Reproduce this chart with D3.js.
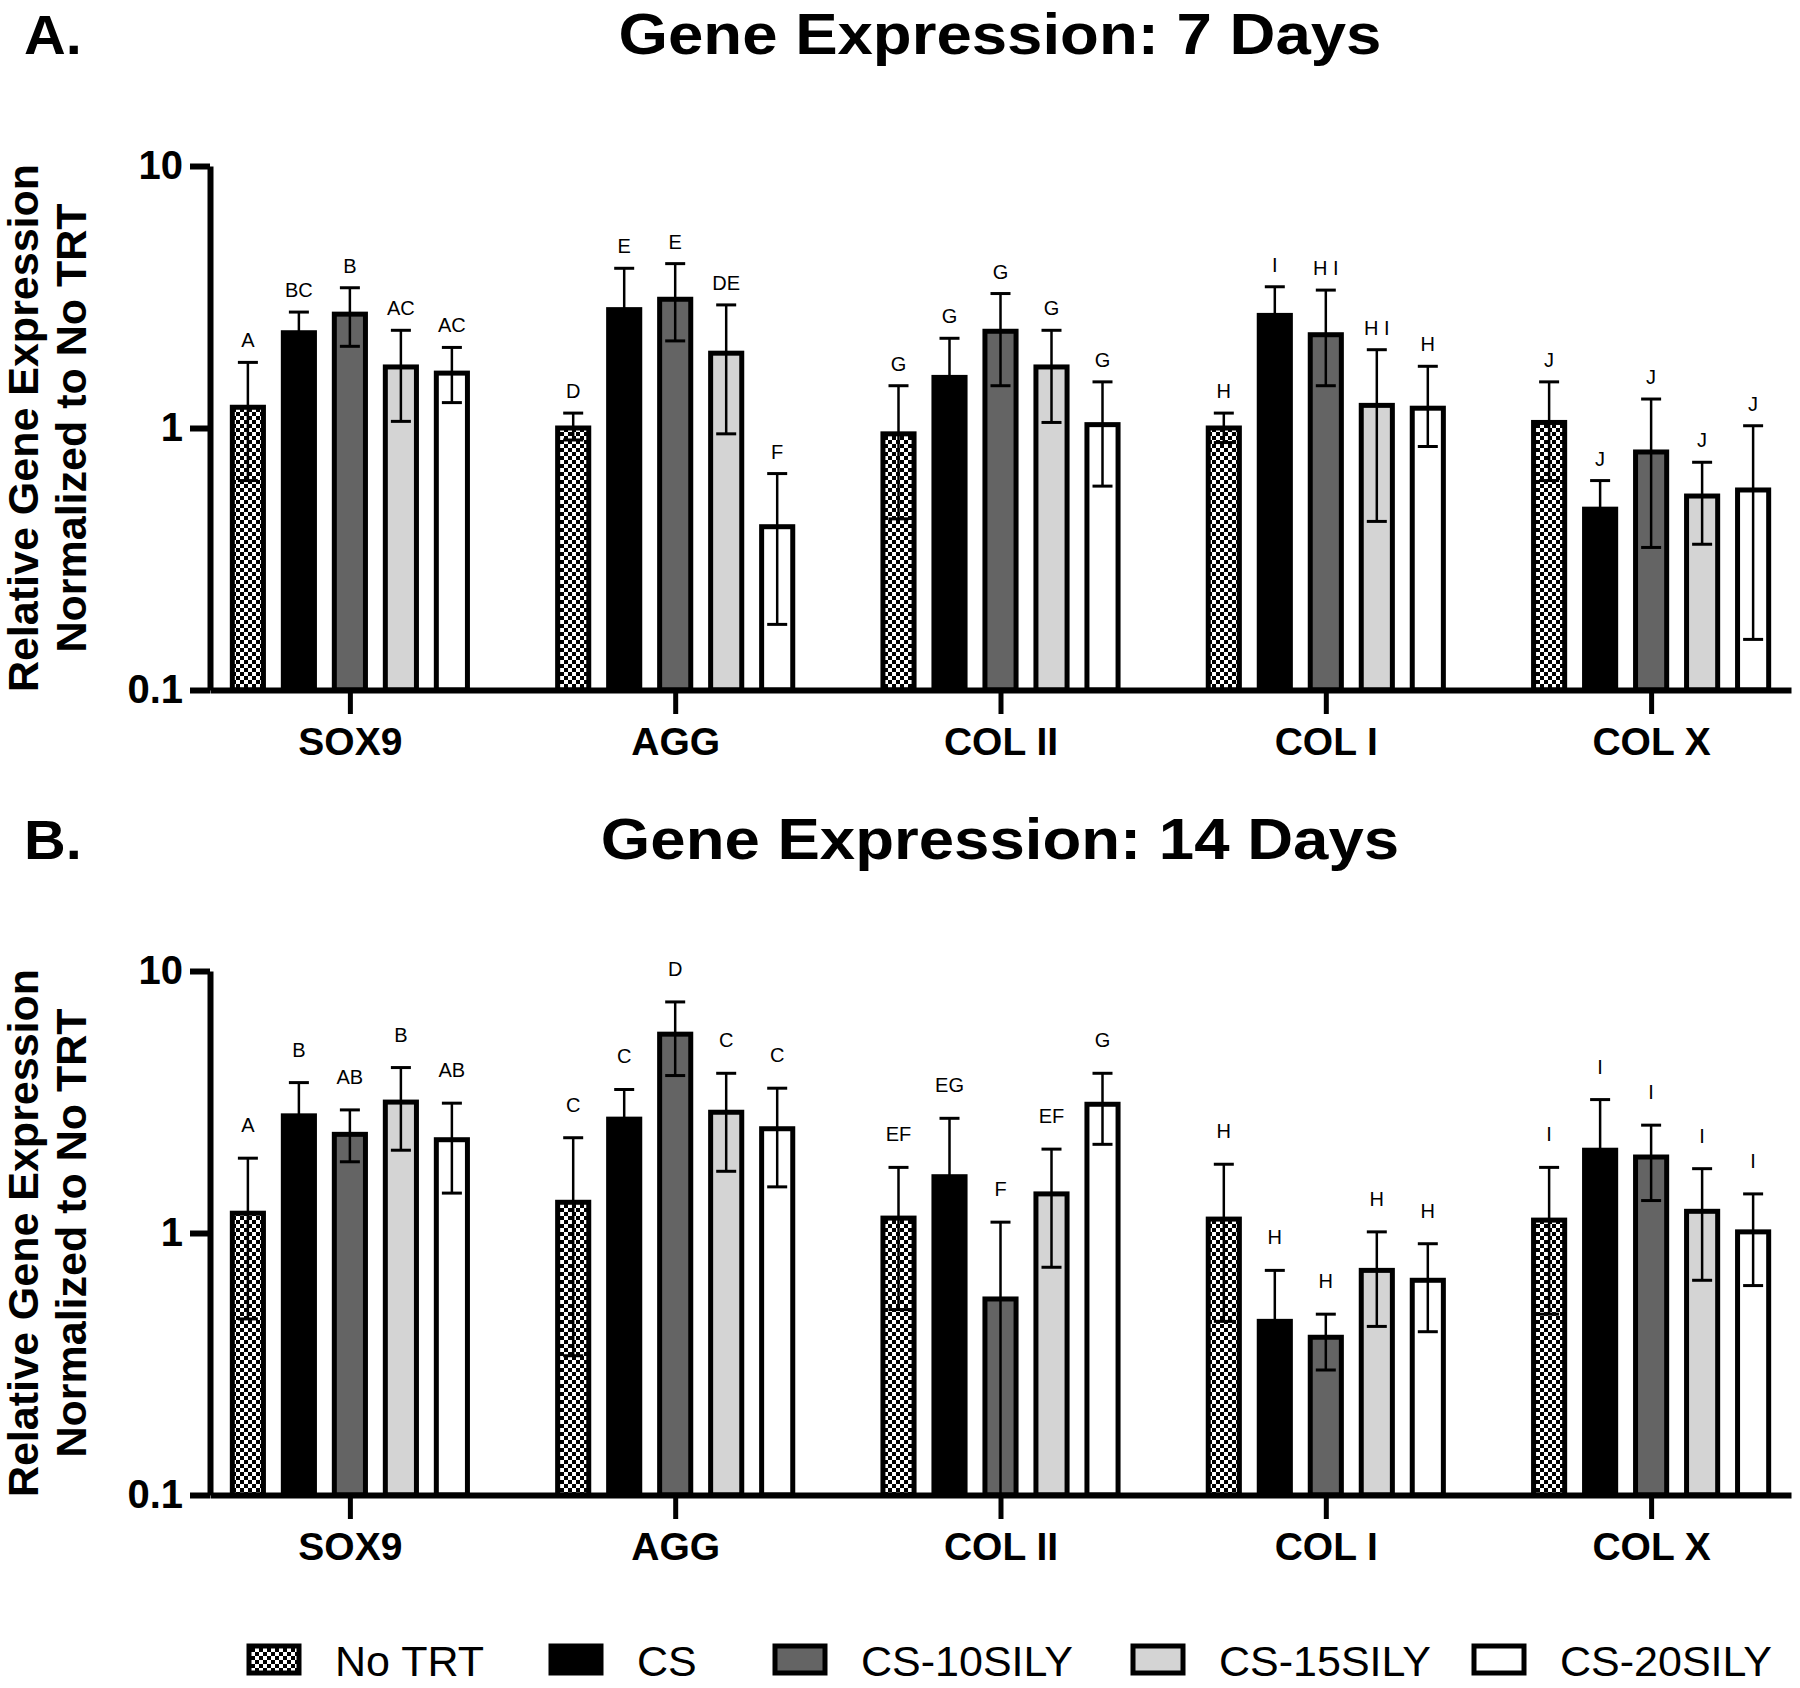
<!DOCTYPE html>
<html>
<head>
<meta charset="utf-8">
<script src="https://cdn.jsdelivr.net/npm/d3@7"></script>
<style>
  html, body { margin: 0; padding: 0; background: #fff; }
  svg { display: block; font-family: "Liberation Sans", Arial, sans-serif; }
</style>
</head>
<body>
<svg id="chart" width="1800" height="1688"></svg>
<script>
// ---------------- DATA ----------------
const categories = ["SOX9", "AGG", "COL II", "COL I", "COL X"];
const seriesNames = ["No TRT", "CS", "CS-10SILY", "CS-15SILY", "CS-20SILY"];
const yTickValues = [0.1, 1, 10];
const yTickLabels = ["0.1", "1", "10"];

// Day 7 — rows = series, columns = categories
const day7Mean = [
  [1.20, 1.00, 0.95, 1.00, 1.05],
  [2.31, 2.83, 1.56, 2.69, 0.49],
  [2.72, 3.10, 2.34, 2.27, 0.81],
  [1.71, 1.93, 1.71, 1.22, 0.55],
  [1.62, 0.42, 1.03, 1.19, 0.58]
];
const day7Upper = [
  [1.78, 1.14, 1.45, 1.14, 1.50],
  [2.77, 4.07, 2.20, 3.46, 0.63],
  [3.43, 4.24, 3.26, 3.36, 1.29],
  [2.36, 2.95, 2.36, 1.99, 0.74],
  [2.03, 0.67, 1.50, 1.72, 1.02]
];
const day7Lower = [
  [0.63, 0.90, 0.45, 0.88, 0.63],
  [1.93, 1.95, 1.10, 2.10, 0.38],
  [2.05, 2.15, 1.45, 1.45, 0.35],
  [1.06, 0.95, 1.05, 0.44, 0.36],
  [1.25, 0.178, 0.60, 0.85, 0.156]
];
const day7Letters = [
  ["A", "D", "G", "H", "J"],
  ["BC", "E", "G", "I", "J"],
  ["B", "E", "G", "H I", "J"],
  ["AC", "DE", "G", "H I", "J"],
  ["AC", "F", "G", "H", "J"]
];

// Day 14
const day14Mean = [
  [1.19, 1.31, 1.14, 1.13, 1.12],
  [2.80, 2.72, 1.64, 0.46, 2.07],
  [2.38, 5.74, 0.56, 0.40, 1.95],
  [3.16, 2.89, 1.41, 0.72, 1.21],
  [2.27, 2.50, 3.10, 0.66, 1.01]
];
const day14Upper = [
  [1.93, 2.31, 1.78, 1.83, 1.78],
  [3.75, 3.53, 2.74, 0.72, 3.23],
  [2.95, 7.62, 1.10, 0.49, 2.58],
  [4.28, 4.07, 2.09, 1.01, 1.76],
  [3.13, 3.57, 4.07, 0.91, 1.41]
];
const day14Lower = [
  [0.47, 0.34, 0.51, 0.46, 0.49],
  [2.10, 2.00, 1.10, 0.33, 1.50],
  [1.87, 3.99, 0.05, 0.30, 1.33],
  [2.07, 1.72, 0.74, 0.44, 0.66],
  [1.42, 1.50, 2.18, 0.42, 0.63]
];
const day14Letters = [
  ["A", "C", "EF", "H", "I"],
  ["B", "C", "EG", "H", "I"],
  ["AB", "D", "F", "H", "I"],
  ["B", "C", "EF", "H", "I"],
  ["AB", "C", "G", "H", "I"]
];

// ---------------- STYLE ----------------
const fills = ["url(#checker)", "#000000", "#646464", "#d4d4d4", "#ffffff"];

const svg = d3.select("#chart");
const defs = svg.append("defs");
const pat = defs.append("pattern")
  .attr("id", "checker").attr("patternUnits", "userSpaceOnUse")
  .attr("width", 8).attr("height", 8);
pat.append("rect").attr("width", 8).attr("height", 8).attr("fill", "#fff");
pat.append("rect").attr("x", 0).attr("y", 0).attr("width", 4).attr("height", 4).attr("fill", "#000");
pat.append("rect").attr("x", 4).attr("y", 4).attr("width", 4).attr("height", 4).attr("fill", "#000");

const xLeft = 210, xRight = 1791;
const x = d3.scalePoint().domain(categories).range([xLeft, xRight]).padding(0.43);
const xInner = d3.scaleBand().domain(seriesNames).range([-127.5, 127.5]).paddingInner(0.39).paddingOuter(0.195);

function drawPanel(cfg) {
  const { top, bottom, mean, upper, lower, letters, title, tag, letterGap } = cfg;
  const y = d3.scaleLog().domain([0.1, 10]).range([bottom, top]);
  const g = svg.append("g");
  const titleBase = top - 112;

  // Panel tag and title
  g.append("text").attr("transform", `translate(24,${titleBase}) scale(1.05,1)`)
    .attr("font-size", 55).attr("font-weight", "bold").text(tag);
  g.append("text").attr("transform", `translate(1000,${titleBase}) scale(1.115,1)`)
    .attr("text-anchor", "middle").attr("font-size", 57).attr("font-weight", "bold").text(title);

  // Y-axis label
  const midY = (top + bottom) / 2;
  const yl = g.append("text").attr("transform", `translate(0,${midY}) rotate(-90)`)
    .attr("text-anchor", "middle").attr("font-size", 43).attr("font-weight", "bold");
  yl.append("tspan").attr("x", 0).attr("y", 38).text("Relative Gene Expression");
  yl.append("tspan").attr("x", 0).attr("y", 86).text("Normalized to No TRT");

  // Bars
  const barData = [];
  seriesNames.forEach((s, si) => {
    categories.forEach((c, ci) => {
      barData.push({ s, si, c, ci, v: mean[si][ci], hi: upper[si][ci], lo: lower[si][ci], lab: letters[si][ci] });
    });
  });
  const bw = xInner.bandwidth();
  const cx = d => x(d.c) + xInner(d.s) + bw / 2;

  g.selectAll("rect.bar").data(barData).join("rect")
    .attr("class", "bar")
    .attr("x", d => cx(d) - bw / 2)
    .attr("y", d => y(d.v))
    .attr("width", bw)
    .attr("height", d => y(0.1) - y(d.v))
    .attr("fill", d => fills[d.si])
    .attr("stroke", "#000").attr("stroke-width", 5);

  // Error bars
  const eb = g.selectAll("g.err").data(barData).join("g").attr("class", "err");
  eb.append("line")
    .attr("x1", cx).attr("x2", cx)
    .attr("y1", d => y(d.hi)).attr("y2", d => Math.min(y(Math.max(d.lo, 0.1)), bottom))
    .attr("stroke", "#000").attr("stroke-width", 2.5);
  eb.append("line")
    .attr("x1", d => cx(d) - 10).attr("x2", d => cx(d) + 10)
    .attr("y1", d => y(d.hi)).attr("y2", d => y(d.hi))
    .attr("stroke", "#000").attr("stroke-width", 3);
  eb.filter(d => d.lo >= 0.1).append("line")
    .attr("x1", d => cx(d) - 10).attr("x2", d => cx(d) + 10)
    .attr("y1", d => y(d.lo)).attr("y2", d => y(d.lo))
    .attr("stroke", "#000").attr("stroke-width", 3);

  // Letters
  g.selectAll("text.letter").data(barData).join("text")
    .attr("class", "letter")
    .attr("x", cx)
    .attr("y", d => y(d.hi) - letterGap)
    .attr("text-anchor", "middle").attr("font-size", 20)
    .text(d => d.lab);

  // Y axis
  const yAxis = d3.axisLeft(y).tickValues(yTickValues)
    .tickFormat((d, i) => yTickLabels[i]).tickSize(20).tickSizeOuter(0).tickPadding(7);
  const ya = g.append("g").attr("transform", `translate(${xLeft},0)`).call(yAxis);
  ya.select(".domain").attr("stroke-width", 6);
  ya.selectAll(".tick line").attr("stroke-width", 6);
  ya.selectAll(".tick text").attr("font-size", 40).attr("font-weight", "bold")
    .attr("font-family", "'Liberation Sans', Arial, sans-serif").attr("fill", "#000");

  // X axis
  const xAxis = d3.axisBottom(x).tickSize(24).tickSizeOuter(0).tickPadding(13);
  const xa = g.append("g").attr("transform", `translate(0,${bottom})`).call(xAxis);
  xa.select(".domain").attr("stroke-width", 6);
  xa.selectAll(".tick line").attr("stroke-width", 5);
  xa.selectAll(".tick text").attr("font-size", 39).attr("font-weight", "bold")
    .attr("font-family", "'Liberation Sans', Arial, sans-serif").attr("fill", "#000");
}

drawPanel({ top: 166, bottom: 690, mean: day7Mean, upper: day7Upper, lower: day7Lower,
  letters: day7Letters, title: "Gene Expression: 7 Days", tag: "A.", letterGap: 15 });
drawPanel({ top: 971, bottom: 1495, mean: day14Mean, upper: day14Upper, lower: day14Lower,
  letters: day14Letters, title: "Gene Expression: 14 Days", tag: "B.", letterGap: 26 });

// Legend
const legendX = [247, 549, 773, 1131, 1472];
const leg = svg.append("g").attr("transform", "translate(0,1644)");
const li = leg.selectAll("g").data(seriesNames).join("g")
  .attr("transform", (d, i) => `translate(${legendX[i]},0)`);
li.append("rect").attr("x", 2).attr("y", 2).attr("width", 50).attr("height", 27)
  .attr("fill", (d, i) => fills[i]).attr("stroke", "#000").attr("stroke-width", 5);
li.append("text").attr("x", 88).attr("y", 32).attr("font-size", 43).text(d => d);
</script>
</body>
</html>
